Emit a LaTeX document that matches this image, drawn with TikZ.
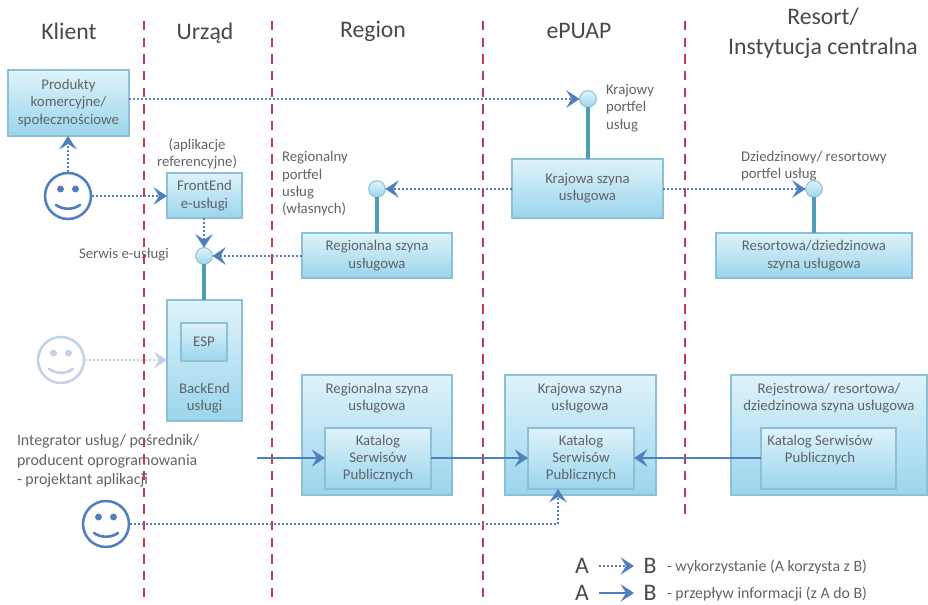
\documentclass[tikz,border=0pt]{standalone}
\usepackage{fontspec}
\setmainfont{Carlito}
\usetikzlibrary{arrows.meta,shadows}
\definecolor{txt}{HTML}{5F6468}
\definecolor{ttl}{HTML}{45494D}
\definecolor{rd}{HTML}{C63A50}
\definecolor{bl}{HTML}{4F7FBF}
\definecolor{ghost}{HTML}{C3D2E8}
\definecolor{stem}{HTML}{4E9DB8}
\definecolor{edge}{HTML}{8CC0D6}
\definecolor{boxtop}{HTML}{DFF3FA}
\definecolor{boxbot}{HTML}{9AD5EC}
\tikzset{
  boxa/.style={draw=edge,line width=0.8pt,top color=boxtop,bottom color=boxbot,
     inner sep=0pt,outer sep=0pt,align=center,text=txt,
     font=\fontsize{11.1}{13}\selectfont,
     drop shadow={shadow xshift=0.6pt,shadow yshift=-1pt,opacity=.35,fill=black!60}},
  smalltxt/.style={inner sep=0pt,outer sep=0pt,text=txt,font=\fontsize{11.1}{13}\selectfont},
  smallc/.style={smalltxt,align=center},
  smalll/.style={smalltxt,align=left,anchor=west},
  title/.style={inner sep=0pt,text=ttl,font=\fontsize{17.8}{22.5}\selectfont,align=center},
  port/.style={circle,draw=stem!60,line width=0.8pt,top color=boxtop,bottom color=boxbot,
     minimum size=12.5pt,inner sep=0pt,outer sep=0pt},
  face/.style={circle,draw=#1,line width=1.9pt,minimum size=34.5pt,inner sep=0pt,outer sep=1pt},
  used/.style={draw=bl,line width=2.2pt,dash pattern=on 1.5pt off 1.5pt,
     -{Stealth[length=10pt,width=13pt,inset=4pt,sep=0pt]}},
  usedg/.style={used,draw=ghost},
  flow/.style={draw=bl,line width=2.1pt,-{Stealth[length=10pt,width=13pt,inset=4pt]}},
  stemln/.style={draw=stem,line width=2.3pt},
  redln/.style={draw=rd,line width=2pt,dash pattern=on 7pt off 5.5pt},
  legl/.style={inner sep=0pt,text=ttl,font=\fontsize{17.8}{20}\selectfont},
}
\newcommand\bbox[6]{\node[boxa,minimum width={(#4-#2)*0.75pt},minimum height={(#5-#3)*0.75pt}] (#1) at ({(#2+#4)/2},{(#3+#5)/2}) {#6};}
\newcommand\smface[4]{%
  \node[face=#4] (#1) at (#2,#3) {};
  \fill[#4] (#2-7.5,#3-7) circle[radius=2.6pt] (#2+7.5,#3-7) circle[radius=2.6pt];
  \draw[#4,line width=2pt,line cap=round] (#2-12,#3+9) .. controls (#2-5,#3+14) and (#2+5,#3+14) .. (#2+12,#3+9);
}
\begin{document}
\begin{tikzpicture}[x=0.75pt,y=-0.75pt]
\useasboundingbox (0,0) rectangle (928,605);
% boxes
\bbox{prod}{8}{70}{129}{136}{Produkty\\komercyjne/\\społecznościowe}
\bbox{front}{167}{173}{242}{218}{FrontEnd\\e-usługi}
\bbox{regtop}{302}{233}{452}{278}{Regionalna szyna\\usługowa}
\bbox{krtop}{512}{159}{663}{218}{Krajowa szyna\\usługowa}
\bbox{restop}{716}{233}{912}{278}{Resortowa/dziedzinowa\\szyna usługowa}
\bbox{back}{167}{300}{242}{421}{}
\bbox{esp}{181}{323}{227}{361}{ESP}
\bbox{regbot}{302}{375}{452}{495}{}
\bbox{katreg}{325}{428}{431}{489}{Katalog\\Serwisów\\Publicznych}
\bbox{krbot}{505}{375}{656}{495}{}
\bbox{katkr}{528}{428}{634}{489}{Katalog\\Serwisów\\Publicznych}
\bbox{rejbot}{731}{375}{927}{495}{}
\bbox{katrej}{761}{428}{896}{489}{}
% box captions
\node[smallc] (tback) at (204.5,398) {BackEnd\\usługi};
\node[smallc] (treg) at (377,398) {Regionalna szyna\\usługowa};
\node[smallc] (tkr) at (580,398) {Krajowa szyna\\usługowa};
\node[smallc] (trej) at (829,398) {Rejestrowa/ resortowa/\\dziedzinowa szyna usługowa};
\node[smallc] (tkat) at (820,450) {Katalog Serwisów\\Publicznych};
% titles
\node[title] (tk) at (69,31) {Klient};
\node[title] (tu) at (205,33) {Urząd};
\node[title] (tr) at (373,31) {Region};
\node[title] (te) at (579,31) {ePUAP};
\node[title] (ti) at (823,33) {Resort/\\Instytucja centralna};
% free labels
\node[smallc] (lapp) at (197,154) {(aplikacje\\referencyjne)};
\node[smalll] (lreg) at (282,184) {Regionalny\\portfel\\usług\\(własnych)};
\node[smalll] (lser) at (79,255) {Serwis e-usługi};
\node[smalll] (lkra) at (606,108) {Krajowy\\portfel\\usług};
\node[smalll] (ldzi) at (741,166) {Dziedzinowy/ resortowy\\portfel  usług};
\node[smalll,font=\fontsize{11.9}{14.6}\selectfont] (lint) at (17,461) {Integrator usług/ pośrednik/\\producent oprogramowania\\- projektant aplikacji};
% red separators
\coordinate (r1a) at (144,21); \coordinate (r1b) at (144,602);
\coordinate (r2a) at (272,21); \coordinate (r2b) at (272,602);
\coordinate (r3a) at (483,21); \coordinate (r3b) at (483,602);
\coordinate (r4a) at (685,21); \coordinate (r4b) at (685,518);
\draw[redln] (r1a) -- (r1b);
\draw[redln] (r2a) -- (r2b);
\draw[redln] (r3a) -- (r3b);
\draw[redln] (r4a) -- (r4b);
% ports and faces
\node[port] (pkr) at (588,99) {};
\node[port] (preg) at (377,189) {};
\node[port] (pser) at (204,256) {};
\node[port] (pdzi) at (814,189) {};
\smface{s1}{68}{196}{bl}
\smface{s2}{61}{360}{ghost}
\smface{s3}{106}{524}{bl}
% stems
\draw[stemln] (pkr) -- (krtop.north -| pkr);
\draw[stemln] (preg) -- (regtop.north -| preg);
\draw[stemln] (pser) -- (back.north -| pser);
\draw[stemln] (pdzi) -- (restop.north -| pdzi);
% usage
\draw[used] (prod.east |- pkr) -- (pkr);
\draw[used] (s1.north) -- (prod.south -| s1);
\draw[used] (s1) -- (front.west |- s1);
\draw[used] (front.south -| pser) -- (pser);
\draw[used] (regtop.west |- pser) -- (pser);
\draw[used] (krtop.west |- preg) -- (preg);
\draw[used] (krtop.east |- pdzi) -- (pdzi);
\draw[usedg] (s2) -- (back.west |- s2);
\coordinate (bend) at (558,489);
\draw[used] (s3) -| (bend);
% flow
\coordinate (fstart) at (257,458);
\draw[flow] (fstart) -- (katreg.west |- fstart);
\draw[flow] (katreg.east |- fstart) -- (katkr.west |- fstart);
\draw[flow] (katrej.west |- fstart) -- (katkr.east |- fstart);
% legend
\node[legl] (la1) at (582,566) {A};
\node[legl] (lb1) at (650,566) {B};
\node[legl] (la2) at (582,593) {A};
\node[legl] (lb2) at (650,593) {B};
\coordinate (u1) at (599,566); \coordinate (v1) at (634,566);
\coordinate (u2) at (599,593); \coordinate (v2) at (634,593);
\draw[used] (u1) -- (v1);
\draw[flow] (u2) -- (v2);
\node[smalll,font=\fontsize{11.9}{13}\selectfont] (lg1) at (667,567) {- wykorzystanie (A korzysta z B)};
\node[smalll,font=\fontsize{11.9}{13}\selectfont] (lg2) at (667,594) {- przepływ informacji (z A do B)};
\end{tikzpicture}
\end{document}
